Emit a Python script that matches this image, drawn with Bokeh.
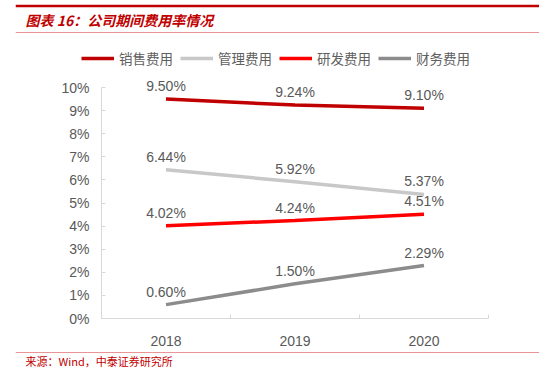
from bokeh.plotting import figure
from bokeh.models import (FixedTicker, Legend, LegendItem, Label, Span,
                          ColumnDataSource, Range1d, LinearAxis)
from bokeh.core.properties import value
from bokeh.embed import file_html
from bokeh.resources import INLINE

years = ["2018", "2019", "2020"]
sales = [9.50, 9.24, 9.10]
admin = [6.44, 5.92, 5.37]
rnd = [4.02, 4.24, 4.51]
fin = [0.60, 1.50, 2.29]
series_names = ["销售费用", "管理费用", "研发费用", "财务费用"]
series_values = [sales, admin, rnd, fin]
colors = ["#C00000", "#C8C8C8", "#FF0000", "#8C8C8C"]
y_ticks = list(range(0, 11))
title_text = "图表 16：公司期间费用率情况"
source_text = "来源：Wind，中泰证券研究所"

FONT = "Liberation Sans"
CJK = "Noto Sans CJK SC"

# canvas / frame geometry (pixels from canvas top-left)
W, H = 539, 368
FRAME_LEFT = 15
AX_X0, AX_X1 = 101, 488     # x axis extent (category boundaries 0..3)
AX_Y0, AX_Y10 = 318, 87     # y pixel of 0% and 10%
n = len(years)
PX_X = (AX_X1 - AX_X0) / n
PX_Y = (AX_Y0 - AX_Y10) / 10.0


def dx(px):
    return (px - AX_X0) / PX_X


def dy(py):
    return (AX_Y0 - py) / PX_Y


p = figure(width=W, height=H, output_backend="svg", toolbar_location=None,
           min_border_left=FRAME_LEFT, min_border_right=0, min_border_top=0,
           min_border_bottom=0, x_range=Range1d(dx(FRAME_LEFT), dx(W)),
           y_range=Range1d(dy(H), dy(0)), x_axis_type=None, y_axis_type=None)
p.outline_line_color = None
p.xgrid.visible = False
p.ygrid.visible = False

xs = [i + 0.5 for i in range(n)]

xa = LinearAxis(fixed_location=0, bounds=(0, n),
                ticker=FixedTicker(ticks=xs, minor_ticks=list(range(n + 1))))
xa.major_label_overrides = {x: y for x, y in zip(xs, years)}
xa.major_tick_line_color = None
xa.minor_tick_in = 4
xa.minor_tick_out = 0
xa.minor_tick_line_color = "#D9D9D9"
xa.axis_line_color = "#D9D9D9"
xa.major_label_text_font = FONT
xa.major_label_text_font_size = "14px"
xa.major_label_text_color = "#595959"
xa.major_label_standoff = 11
p.add_layout(xa, "below")

ya = LinearAxis(fixed_location=0, bounds=(0, 10), ticker=FixedTicker(ticks=y_ticks))
ya.major_label_overrides = {t: f"{t}%" for t in y_ticks}
ya.major_tick_in = 4
ya.major_tick_out = 0
ya.minor_tick_line_color = None
ya.major_tick_line_color = "#D9D9D9"
ya.axis_line_color = "#D9D9D9"
ya.major_label_text_font = FONT
ya.major_label_text_font_size = "14px"
ya.major_label_text_color = "#595959"
ya.major_label_standoff = 12
p.add_layout(ya, "left")

items = []
for name, vals, c in zip(series_names, series_values, colors):
    src = ColumnDataSource(dict(x=xs, y=vals, t=[f"{v:.2f}%" for v in vals]))
    r = p.line("x", "y", source=src, line_color=c, line_width=3.5)
    p.text("x", "y", text="t", source=src, text_align="center",
           text_baseline="alphabetic", y_offset=-13,
           text_font=value(FONT), text_font_size="14px", text_color="#595959")
    items.append(LegendItem(label=name, renderers=[r]))

legend = Legend(items=items, orientation="horizontal",
                location=(81 - FRAME_LEFT, H - 68),
                padding=0, margin=0, spacing=7, label_standoff=5,
                glyph_width=33, glyph_height=20,
                label_text_font=CJK, label_text_font_size="13.5px",
                label_text_color="#606060", border_line_color=None,
                background_fill_alpha=0)
p.add_layout(legend, "center")

# decorations: rules and texts
p.add_layout(Span(location=dy(5.5), dimension="width", line_color="#C00000",
                  line_width=2.5))
p.add_layout(Span(location=dy(32), dimension="width", line_color="#E99595",
                  line_width=1))
p.add_layout(Span(location=dy(352), dimension="width", line_color="#E99595",
                  line_width=1))
p.add_layout(Label(x=dx(25), y=dy(19), text=title_text, text_font=CJK,
                   text_font_size="14px", text_font_style="bold italic",
                   text_color="#C00000", text_baseline="middle"))
p.add_layout(Label(x=dx(25), y=dy(360), text=source_text, text_font=CJK,
                   text_font_size="11px", text_color="#C00000",
                   text_baseline="middle"))

open("out.html", "w").write(file_html(p, INLINE))
